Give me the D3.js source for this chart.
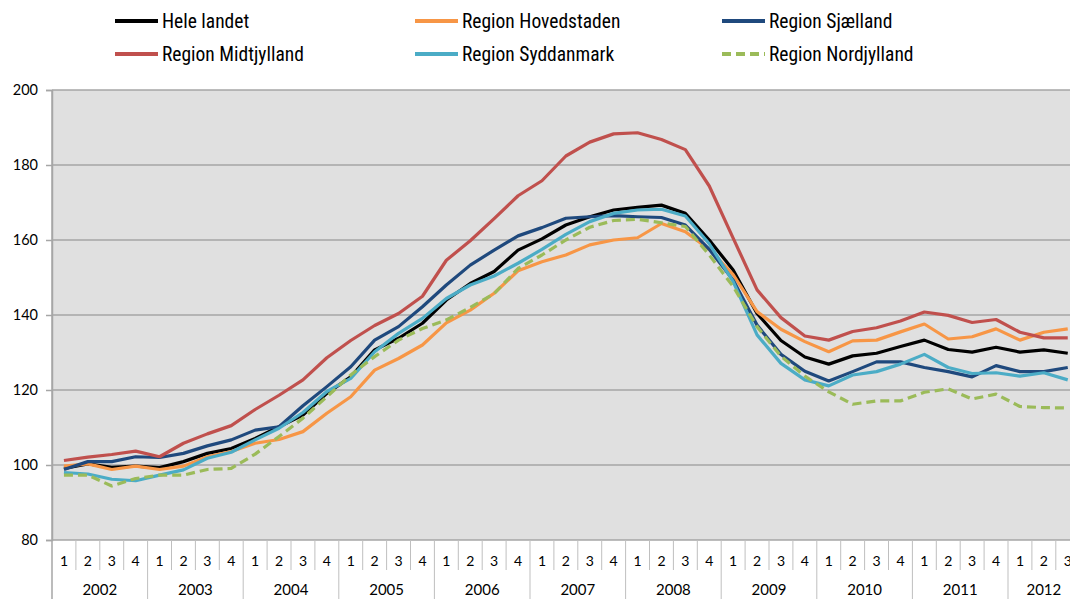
<!DOCTYPE html>
<html>
<head>
<meta charset="utf-8">
<script src="https://cdn.jsdelivr.net/npm/d3@7"></script>
<style>
  html, body { margin: 0; padding: 0; background: #ffffff; overflow: hidden; }
  svg { display: block; }
</style>
</head>
<body>
<svg id="chart" width="1070" height="599"></svg>
<script>
// ---------- DATA ----------
const years = ["2002","2003","2004","2005","2006","2007","2008","2009","2010","2011","2012"];
const quarterNames = ["1","2","3","4"];
const quarterCount = 43; // 2002 Q1 .. 2012 Q3
const yTicks = [80, 100, 120, 140, 160, 180, 200];

const seriesNames = ["Hele landet", "Region Hovedstaden", "Region Sjælland",
                     "Region Midtjylland", "Region Syddanmark", "Region Nordjylland"];

const heleLandet = [99.1,100.3,99.4,99.7, 99.3,100.9,103.1,104.4, 107.1,110.2,113.3,119.1,
  123.5,130.7,133.8,137.8, 144.0,148.4,151.6,157.3, 160.3,164.0,166.2,168.0,
  168.7,169.3,167.1,160.0, 152.0,140.4,133.2,128.8, 126.9,129.1,129.8,131.6,
  133.3,130.8,130.1,131.4, 130.1,130.7,129.8];
const hovedstaden = [99.7,100.3,98.8,99.7, 98.8,99.7,102.2,103.6, 105.8,106.8,108.9,113.8,
  118.2,125.3,128.4,132.0, 137.9,141.3,145.8,151.8, 154.2,156.0,158.7,160.0,
  160.6,164.4,162.2,157.5, 150.8,140.9,136.2,132.9, 130.2,133.1,133.3,135.5,
  137.6,133.6,134.2,136.3, 133.3,135.4,136.3];
const sjaelland = [98.8,100.9,100.9,102.2, 102.0,103.1,105.1,106.7, 109.3,110.2,115.8,120.9,
  126.2,133.3,136.9,142.2, 148.0,153.3,157.3,161.1, 163.3,165.8,166.2,166.5,
  166.2,166.0,164.0,157.5, 149.3,137.3,129.5,125.0, 122.4,124.9,127.5,127.5,
  126.0,124.9,123.5,126.5, 124.9,124.9,126.0];
const midtjylland = [101.2,102.1,102.8,103.7, 102.2,105.8,108.3,110.5, 114.8,118.6,122.7,128.6,
  133.2,137.2,140.4,145.0, 154.6,159.8,165.7,171.8, 175.8,182.4,186.1,188.3,
  188.6,186.8,184.1,174.4, 160.5,146.7,139.3,134.4, 133.3,135.6,136.6,138.4,
  140.8,139.9,138.0,138.8, 135.4,133.9,133.9];
const syddanmark = [98.0,97.6,96.2,95.8, 97.3,98.7,101.8,103.4, 106.7,109.8,114.0,119.6,
  123.1,130.2,135.1,139.1, 144.4,148.0,150.4,153.8, 157.5,161.5,164.9,167.1,
  168.0,168.2,166.4,159.0, 148.9,134.7,127.1,122.7, 121.1,124.0,124.9,126.9,
  129.5,126.0,124.4,124.6, 123.7,124.6,122.7];
const nordjylland = [97.3,97.3,94.4,96.4, 97.3,97.3,98.8,99.1, 102.9,107.6,112.5,118.2,
  124.0,128.9,133.3,136.4, 138.7,142.0,145.7,152.4, 156.0,160.0,163.4,165.2,
  165.5,164.6,163.6,156.0, 147.6,136.9,129.0,123.7, 119.5,116.2,117.1,117.1,
  119.4,120.3,117.6,118.9, 115.6,115.3,115.2];

const seriesValues = [heleLandet, hovedstaden, sjaelland, midtjylland, syddanmark, nordjylland];
const seriesColors = ["#000000", "#f79646", "#1f497d", "#c0504d", "#4bacc6", "#9bbb59"];
const seriesDash = [null, null, null, null, null, "9,5"];

// ---------- LAYOUT ----------
const svg = d3.select("#chart");
const plotLeft = 52, plotTop = 90, plotBottom = 540;
const qStep = 23.9;
const plotRight = plotLeft + quarterCount * qStep;

const quarterIdx = d3.range(quarterCount);
const quarterLabel = i => quarterNames[i % 4];
const x = d3.scaleBand().domain(quarterIdx).range([plotLeft, plotRight]).paddingInner(0).paddingOuter(0);
const xc = i => x(i) + x.bandwidth() / 2;
const y = d3.scaleLinear().domain([80, 200]).range([plotBottom, plotTop]);

const axisFont = "Lato, 'Open Sans', 'Liberation Sans', sans-serif";
const gridColor = "#a6a6a6";

// plot background
svg.append("rect")
  .attr("x", plotLeft).attr("y", plotTop)
  .attr("width", plotRight - plotLeft).attr("height", plotBottom - plotTop)
  .attr("fill", "#e0e0e0");

// gridlines
svg.append("g").selectAll("line").data(yTicks.filter(t => t > 80)).join("line")
  .attr("x1", plotLeft).attr("x2", plotRight)
  .attr("y1", d => y(d)).attr("y2", d => y(d))
  .attr("stroke", gridColor).attr("stroke-width", 1.5);

// y axis
const yAxis = svg.append("g").attr("transform", `translate(${plotLeft},0)`)
  .call(d3.axisLeft(y).tickValues(yTicks).tickSize(6).tickPadding(8).tickFormat(d3.format("d")));
yAxis.select(".domain").attr("stroke", gridColor).attr("stroke-width", 1.5);
yAxis.selectAll(".tick line").attr("stroke", gridColor).attr("stroke-width", 1.5);
yAxis.selectAll(".tick text").attr("font-family", axisFont).attr("font-size", 14.5).attr("fill", "#000");

// x axis baseline
svg.append("line")
  .attr("x1", plotLeft).attr("x2", plotRight).attr("y1", plotBottom).attr("y2", plotBottom)
  .attr("stroke", gridColor).attr("stroke-width", 1.5);

// quarter labels
const xAxis = svg.append("g").attr("transform", `translate(0,${plotBottom})`)
  .call(d3.axisBottom(x).tickSize(0).tickPadding(0).tickFormat(quarterLabel));
xAxis.select(".domain").remove();
xAxis.selectAll(".tick text")
  .attr("font-family", axisFont).attr("font-size", 14).attr("fill", "#000")
  .attr("dy", null).attr("y", 26);

// quarter dividers
svg.append("g").selectAll("line").data(d3.range(quarterCount + 1).filter(i => i % 4 !== 0)).join("line")
  .attr("x1", i => plotLeft + i * x.step()).attr("x2", i => plotLeft + i * x.step())
  .attr("y1", plotBottom).attr("y2", plotBottom + 30)
  .attr("stroke", "#bfbfbf").attr("stroke-width", 1);

// year dividers
svg.append("g").selectAll("line").data(d3.range(0, quarterCount + 1, 4)).join("line")
  .attr("x1", i => plotLeft + i * x.step()).attr("x2", i => plotLeft + i * x.step())
  .attr("y1", i => i === 0 ? plotTop : plotBottom).attr("y2", 599)
  .attr("stroke", i => i === 0 ? gridColor : "#bfbfbf").attr("stroke-width", i => i === 0 ? 1.5 : 1);

// year labels
svg.append("g").selectAll("text").data(years).join("text")
  .attr("x", (d, k) => {
    const s = k * 4, e = Math.min(s + 4, quarterCount);
    return (plotLeft + s * x.step() + plotLeft + e * x.step()) / 2;
  })
  .attr("y", 595)
  .attr("text-anchor", "middle")
  .attr("font-family", axisFont).attr("font-size", 15).attr("fill", "#000")
  .text(d => d);

// series lines
const line = d3.line().x((d, i) => xc(i)).y(d => y(d));
const linesG = svg.append("g");
seriesValues.forEach((vals, k) => {
  linesG.append("path")
    .datum(vals)
    .attr("d", line)
    .attr("fill", "none")
    .attr("stroke", seriesColors[k])
    .attr("stroke-width", 3.2)
    .attr("stroke-linejoin", "round")
    .attr("stroke-dasharray", seriesDash[k]);
});

// legend
const legendFont = "'Liberation Sans Narrow', 'Arial Narrow', 'Roboto Condensed', sans-serif";
const legCols = [115, 415, 722];
const legRows = [21, 54];
const legend = svg.append("g");
seriesNames.forEach((name, k) => {
  const cx = legCols[k % 3], cy = legRows[Math.floor(k / 3)];
  legend.append("line")
    .attr("x1", cx).attr("x2", cx + 43).attr("y1", cy).attr("y2", cy)
    .attr("stroke", seriesColors[k]).attr("stroke-width", 4)
    .attr("stroke-dasharray", seriesDash[k] ? "9,5" : null);
  legend.append("text")
    .attr("x", cx + 47).attr("y", cy).attr("dy", "0.35em")
    .attr("font-family", legendFont).attr("font-size", 19.5).attr("fill", "#000")
    .text(name);
});
</script>
</body>
</html>
